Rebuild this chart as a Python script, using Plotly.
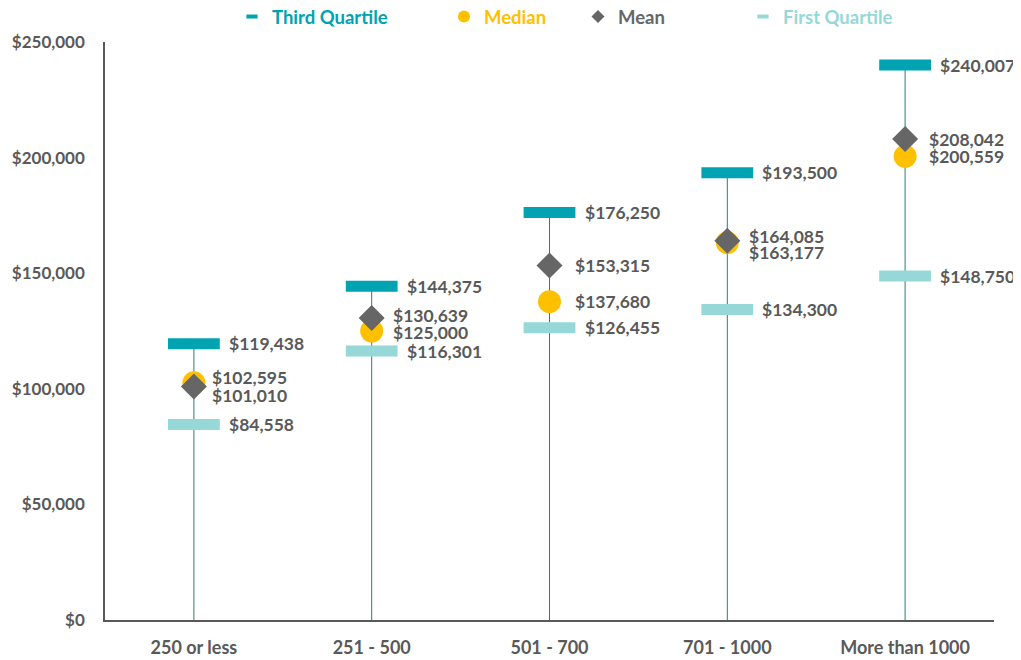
import plotly.graph_objects as go

categories = ["250 or less", "251 - 500", "501 - 700", "701 - 1000", "More than 1000"]
third_quartile = [119438, 144375, 176250, 193500, 240007]
median = [102595, 125000, 137680, 163177, 200559]
mean = [101010, 130639, 153315, 164085, 208042]
first_quartile = [84558, 116301, 126455, 134300, 148750]

C_Q3 = "#00A3B1"
C_MED = "#FFC000"
C_MEAN = "#666666"
C_Q1 = "#96D8D8"
C_TXT = "#595959"
C_STEM = "#2E7D6F"
FONT = "Lato"
# page has an 8px body margin; size the figure to the visible area
W, H = 1013, 652

fig = go.Figure()

# stems from 0 to third quartile
sx, sy = [], []
for c, q in zip(categories, third_quartile):
    sx += [c, c, None]
    sy += [0, q, None]
fig.add_trace(go.Scatter(x=sx, y=sy, mode="lines", line=dict(color=C_STEM, width=1),
                         showlegend=False, hoverinfo="skip"))

series = [
    ("Third Quartile", third_quartile, C_Q3, dict(symbol="line-ew", size=37, line=dict(color=C_Q3, width=11)),
     dict(symbol="line-ew", size=8, line=dict(color=C_Q3, width=4)), "legend"),
    ("Median", median, C_MED, dict(symbol="circle", size=23, color=C_MED),
     dict(symbol="circle", size=12, color=C_MED), "legend2"),
    ("Mean", mean, C_MEAN, dict(symbol="diamond", size=20, color=C_MEAN),
     dict(symbol="diamond", size=10, color=C_MEAN), "legend3"),
    ("First Quartile", first_quartile, C_Q1, dict(symbol="line-ew", size=37, line=dict(color=C_Q1, width=11)),
     dict(symbol="line-ew", size=8, line=dict(color=C_Q1, width=4)), "legend4"),
]
# draw order: quartiles, median, mean on top
for name, vals, col, mk, _, _ in series:
    fig.add_trace(go.Scatter(x=categories, y=vals, mode="markers", name=name, marker=mk,
                             showlegend=False))
for name, vals, col, _, lmk, lg in series:
    fig.add_trace(go.Scatter(x=[None], y=[None], mode="markers",
                             name=f"<span style='color:{col}'>{name}</span>",
                             marker=lmk, showlegend=True, legend=lg))

# label styling offsets (pixels)
q_xshift = 33
mid_xshift = [16, 19, 23, 20, 22]
med_yshift = [5, -1, 0, -10, 0]
mean_yshift = [-9, 2, 0, 4, 0]

annotations = []
def lab(x, y, xs, ys=0):
    annotations.append(dict(x=x, y=y, xref="x", yref="y", text=f"${y:,}", showarrow=False,
                            xanchor="left", yanchor="middle", xshift=xs, yshift=ys,
                            font=dict(family=FONT, size=17.5, color=C_TXT, weight="bold")))

for i, c in enumerate(categories):
    lab(c, third_quartile[i], q_xshift)
    lab(c, first_quartile[i], q_xshift)
    lab(c, median[i], mid_xshift[i], med_yshift[i])
    lab(c, mean[i], mid_xshift[i], mean_yshift[i])

legend_x_px = [224, 436, 570, 735]
legend_common = dict(orientation="h", xref="container", yref="container", xanchor="left",
                     y=1 - 9 / H, yanchor="middle", itemclick=False, itemdoubleclick=False,
                     bgcolor="rgba(0,0,0,0)",
                     font=dict(family=FONT, size=18.5, color=C_TXT, weight="bold"))
legends = {}
for k, px in zip(["legend", "legend2", "legend3", "legend4"], legend_x_px):
    legends[k] = dict(legend_common, x=px / W)

fig.update_layout(
    width=W, height=H,
    margin=dict(l=97, r=27, t=34, b=40, autoexpand=False),
    plot_bgcolor="white", paper_bgcolor="white",
    annotations=annotations,
    showlegend=True,
    **legends,
    xaxis=dict(type="category", range=[-0.5, 4.5], showgrid=False, showline=True,
               linecolor="#595959", linewidth=1.5, ticks="", ticklabelstandoff=11, automargin=False,
               tickfont=dict(family=FONT, size=18, color=C_TXT, weight="bold")),
    yaxis=dict(range=[0, 250000], tickvals=[0, 50000, 100000, 150000, 200000, 250000],
               tickformat="$,.0f", showgrid=False, showline=True, zeroline=False,
               linecolor="#595959", linewidth=1.5, ticks="", ticklabelstandoff=15, automargin=False,
               tickfont=dict(family=FONT, size=17, color=C_TXT, weight="bold")),
)

fig.write_html("out.html")
